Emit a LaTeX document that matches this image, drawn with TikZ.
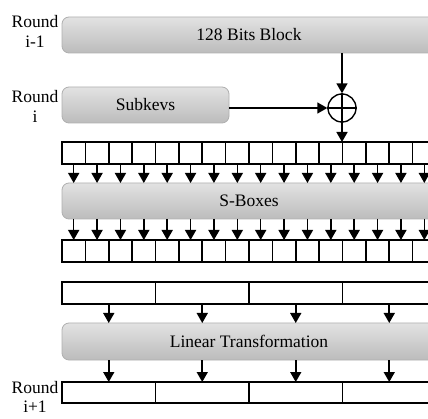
\documentclass[tikz,border=0pt]{standalone}
\usepackage{fontspec}
\setmainfont{Liberation Serif}
\usetikzlibrary{arrows.meta}
\definecolor{boxtop}{RGB}{226,226,226}
\definecolor{boxbot}{RGB}{188,188,188}
\definecolor{boxline}{RGB}{175,175,175}
\begin{document}
\begin{tikzpicture}[x=1pt,y=-1pt,
  font=\fontsize{17.5}{20}\selectfont,
  gbox/.style={draw=boxline, line width=0.8pt, rounded corners=7pt, top color=boxtop, bottom color=boxbot, inner sep=0pt, outer sep=0pt, anchor=north west},
  cell/.style={draw, line width=1.6pt, inner sep=0pt, outer sep=0pt, anchor=north west},
  arr/.style={line width=1.6pt, -{Triangle[width=11pt,length=10pt]}},
  lbl/.style={align=center, inner sep=0pt}]
\useasboundingbox (0,0) rectangle (428,419);
\clip (0,0) rectangle (428,419);
% labels
\node[lbl] (r1) at (35,31) {Round\\i-1};
\node[lbl] (r2) at (35,106) {Round\\i};
\node[lbl, font=\fontsize{17.5}{19}\selectfont] (r3) at (35,397) {Round\\i+1};
% top boxes
\node[gbox, minimum width=374pt, minimum height=36pt] (blk) at (62,17) {128 Bits Block};
\node[gbox, minimum width=167pt, minimum height=36pt] (subk) at (62,87) {Subkevs};
\node[draw, circle, minimum size=28pt, line width=1.4pt, inner sep=0pt] (xr) at (342,108) {};
\draw[line width=1.4pt] (xr.north) -- (xr.south) (xr.west) -- (xr.east);
\draw[arr] (blk.south -| xr) -- (xr.north);
\draw[arr] (subk.east |- xr) -- (xr.west);
% row 1
\foreach \i in {0,...,15}
  \node[cell, minimum width=23.375pt, minimum height=22pt] (a\i) at ({62+23.375*\i},142) {};
\draw[arr] (xr.south) -- (xr.south |- a0.north);
% S-boxes
\node[gbox, minimum width=374pt, minimum height=36pt] (sb) at (62,183) {S-Boxes};
\foreach \i in {0,...,15}
  \draw[arr] (a\i.south) -- (a\i.south |- sb.north);
% row 2
\foreach \i in {0,...,15}
  \node[cell, minimum width=23.375pt, minimum height=22pt] (b\i) at ({62+23.375*\i},240) {};
\foreach \i in {0,...,15}
  \draw[arr] (sb.south -| b\i.north) -- (b\i.north);
% row 3
\foreach \i in {0,...,3}
  \node[cell, minimum width=93.5pt, minimum height=22pt] (c\i) at ({62+93.5*\i},282) {};
% linear transformation
\node[gbox, minimum width=374pt, minimum height=37pt] (lt) at (62,323) {Linear Transformation};
\foreach \i in {0,...,3}
  \draw[arr] (c\i.south) -- (c\i.south |- lt.north);
% row 4
\foreach \i in {0,...,3}
  \node[cell, minimum width=93.5pt, minimum height=21pt] (d\i) at ({62+93.5*\i},382) {};
\foreach \i in {0,...,3}
  \draw[arr] (lt.south -| d\i.north) -- (d\i.north);
\end{tikzpicture}
\end{document}
